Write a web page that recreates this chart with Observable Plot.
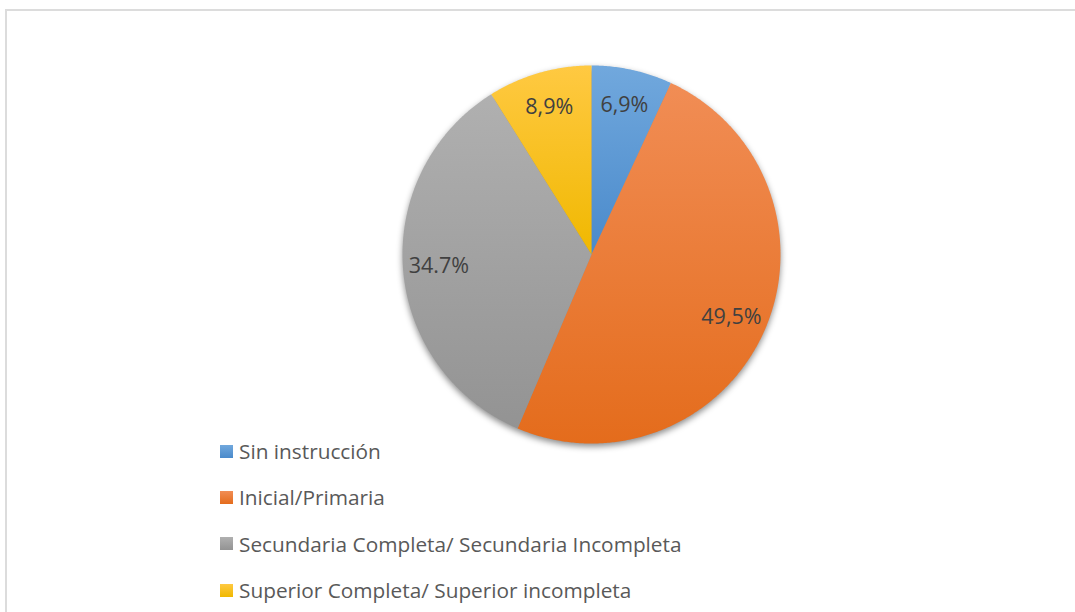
<!DOCTYPE html>
<html>
<head>
<meta charset="utf-8">
<script src="https://cdn.jsdelivr.net/npm/d3@7"></script>
<script src="https://cdn.jsdelivr.net/npm/@observablehq/plot@0.6"></script>
<style>
  html, body { margin: 0; padding: 0; background: #fff; }
  #wrap { position: relative; width: 1075px; height: 612px; overflow: hidden; }
  #frame { position: absolute; left: 5px; top: 9px; width: 1200px; height: 800px; border: 2px solid #dcdcdc; box-sizing: border-box; }
  #chart { position: absolute; left: 0; top: 0; }
  #legend { position: absolute; left: 220px; top: 428px; font-family: "Open Sans", Lato, sans-serif; font-size: 20.8px; color: #595959; }
  .item { display: flex; align-items: center; height: 46.3px; white-space: nowrap; }
  .sw { width: 13px; height: 13px; margin-right: 6px; flex: none; }
</style>
</head>
<body>
<div id="wrap">
  <div id="frame"></div>
  <div id="chart"></div>
  <div id="legend"></div>
</div>
<script>
const categories = ["Sin instrucción", "Inicial/Primaria", "Secundaria Completa/ Secundaria Incompleta", "Superior Completa/ Superior incompleta"];
const values = [6.9, 49.5, 34.7, 8.9];
const labels = ["6,9%", "49,5%", "34.7%", "8,9%"];
const colorTop = ["#71a8dd", "#f18d55", "#b0b0b0", "#ffc942"];
const colorBottom = ["#4a8acb", "#e46c1c", "#939393", "#f0b800"];

const W = 1075, H = 612;
const cx = 591, cy = 254, R = 189;

// pie layout in data units (radius 1), clockwise from 12 o'clock
const pie = d3.pie().sort(null).value(d => d)(values);
const slices = pie.map((p, i) => {
  const pts = [{x: 0, y: 0}];
  const n = Math.max(2, Math.ceil((p.endAngle - p.startAngle) / (Math.PI / 360)));
  for (let k = 0; k <= n; k++) {
    const a = p.startAngle + (p.endAngle - p.startAngle) * k / n;
    pts.push({x: Math.sin(a), y: Math.cos(a)});
  }
  pts.push({x: 0, y: 0});
  return pts;
});
const circle = d3.range(0, 721).map(k => ({x: Math.sin(k * Math.PI / 360), y: Math.cos(k * Math.PI / 360)}));
const labelData = pie.map((p, i) => {
  const a = (p.startAngle + p.endAngle) / 2;
  return {x: 0.81 * Math.sin(a), y: 0.81 * Math.cos(a), t: labels[i]};
});

const marks = [
  Plot.line(circle, {x: "x", y: "y", fill: "#000", fillOpacity: 0.45, stroke: "none"}),
  ...slices.map((s, i) => Plot.line(s, {x: "x", y: "y", fill: `url(#grad${i})`, stroke: "none"})),
  Plot.text(labelData, {x: "x", y: "y", text: "t", fill: "#404040", fontSize: 21.5, fontFamily: "'Open Sans', Lato, sans-serif"})
];

const chart = Plot.plot({
  width: W, height: H,
  margin: 0,
  x: {domain: [-cx / R, (W - cx) / R], axis: null},
  y: {domain: [-(H - cy) / R, cy / R], axis: null},
  style: {background: "transparent", overflow: "visible"},
  marks
});

// gradients & shadow filter
const svg = d3.select(chart);
const defs = svg.insert("defs", ":first-child");
colorTop.forEach((c, i) => {
  const g = defs.append("linearGradient").attr("id", `grad${i}`).attr("x1", 0).attr("y1", 0).attr("x2", 0).attr("y2", 1);
  g.append("stop").attr("offset", "0%").attr("stop-color", c);
  g.append("stop").attr("offset", "100%").attr("stop-color", colorBottom[i]);
});
const f = defs.append("filter").attr("id", "shadow").attr("x", "-20%").attr("y", "-20%").attr("width", "140%").attr("height", "140%");
f.append("feGaussianBlur").attr("stdDeviation", 3);
svg.select('g[aria-label="line"]').attr("filter", "url(#shadow)").attr("transform", "translate(0.5,3.5)");
document.getElementById("chart").appendChild(chart);

// legend
const leg = d3.select("#legend");
categories.forEach((c, i) => {
  const it = leg.append("div").attr("class", "item");
  it.append("div").attr("class", "sw").style("background", `linear-gradient(${colorTop[i]}, ${colorBottom[i]})`);
  it.append("span").text(c);
});
</script>
</body>
</html>
